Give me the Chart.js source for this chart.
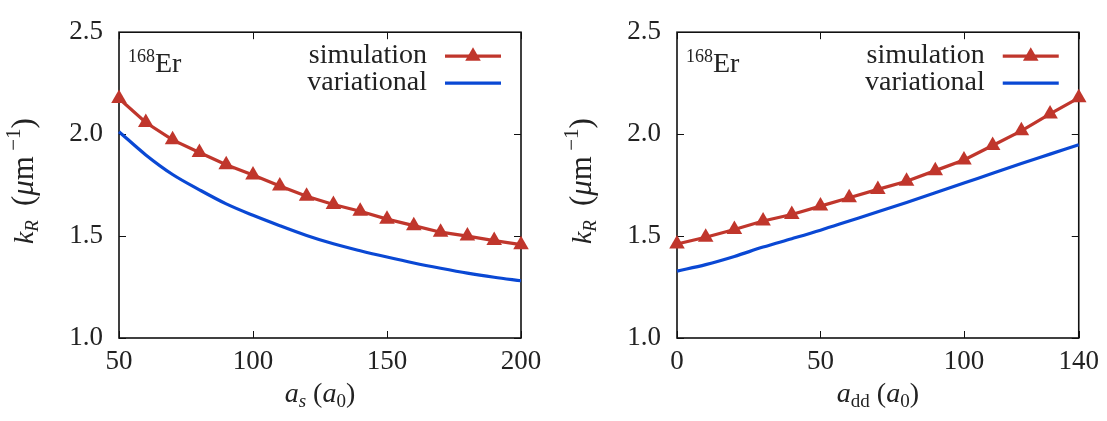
<!DOCTYPE html>
<html>
<head>
<meta charset="utf-8">
<script src="https://cdn.jsdelivr.net/npm/chart.js@4.4.1/dist/chart.umd.min.js"></script>
<style>
  body { margin: 0; background: #fff; width: 1107px; height: 421px; overflow: hidden; position: relative; }
  canvas { position: absolute; top: 0; }
  #graficoAs { left: 0; }
  #graficoAdd { left: 553px; }
</style>
</head>
<body>
<canvas id="graficoAs" width="553" height="421"></canvas>
<canvas id="graficoAdd" width="554" height="421"></canvas>
<script>
// datos
const nombresSeries = ['simulation', 'variational'];
const etiquetaIsotopo = ['168', 'Er'];

const valoresAs = [50, 60, 70, 80, 90, 100, 110, 120, 130, 140, 150, 160, 170, 180, 190, 200];
const simulacionAs = [2.175, 2.057, 1.972, 1.91, 1.85, 1.8, 1.746, 1.695, 1.655, 1.622, 1.583, 1.551, 1.519, 1.5, 1.478, 1.458];
const variacionalAs = [2.012, 1.898, 1.802, 1.727, 1.658, 1.602, 1.551, 1.503, 1.462, 1.428, 1.397, 1.368, 1.342, 1.318, 1.298, 1.281];

const valoresAdd = [0, 10, 20, 30, 40, 50, 60, 70, 80, 90, 100, 110, 120, 130, 140];
const simulacionAdd = [1.461, 1.494, 1.532, 1.574, 1.606, 1.647, 1.688, 1.729, 1.769, 1.821, 1.873, 1.944, 2.016, 2.099, 2.178];
const variacionalAdd = [1.328, 1.36, 1.40, 1.446, 1.487, 1.529, 1.574, 1.619, 1.665, 1.712, 1.76, 1.808, 1.856, 1.902, 1.948];

const ticksY = [1.0, 1.5, 2.0, 2.5];
const ticksAs = [50, 100, 150, 200];
const ticksAdd = [0, 50, 100, 140];

const ROJO = '#c0362c';
const AZUL = '#0a48d4';
const TEXTO = '#222';
const FUENTE = '"Liberation Serif", "Times New Roman", serif';

// partes de texto: [texto, tamaño, cursiva, desplazamiento vertical]
function textoRico(ctx, partes, x, y, rotacion) {
  ctx.save();
  ctx.translate(x, y);
  if (rotacion) ctx.rotate(rotacion);
  ctx.fillStyle = TEXTO;
  ctx.textBaseline = 'alphabetic';
  ctx.textAlign = 'left';
  let ancho = 0;
  partes.forEach(p => {
    ctx.font = (p[2] ? 'italic ' : '') + p[1] + 'px ' + FUENTE;
    ancho += ctx.measureText(p[0]).width;
  });
  let cx = -ancho / 2;
  partes.forEach(p => {
    ctx.font = (p[2] ? 'italic ' : '') + p[1] + 'px ' + FUENTE;
    ctx.fillText(p[0], cx, p[3]);
    cx += ctx.measureText(p[0]).width;
  });
  ctx.restore();
}

function triangulo(ctx, x, y, r) {
  const tercio = Math.PI * 2 / 3;
  let ang = 0;
  ctx.beginPath();
  ctx.moveTo(x + Math.sin(ang) * r, y - Math.cos(ang) * r);
  ang += tercio;
  ctx.lineTo(x + Math.sin(ang) * r, y - Math.cos(ang) * r);
  ang += tercio;
  ctx.lineTo(x + Math.sin(ang) * r, y - Math.cos(ang) * r);
  ctx.closePath();
  ctx.fill();
}

const marco = {
  id: 'marco',
  beforeDatasetsDraw(chart) {
    const { ctx, chartArea: a, scales } = chart;
    ctx.save();
    ctx.strokeStyle = '#111';
    ctx.lineWidth = 1;
    ctx.beginPath();
    scales.x.ticks.forEach(t => {
      const px = Math.round(scales.x.getPixelForValue(t.value)) + 0.5;
      ctx.moveTo(px, a.bottom); ctx.lineTo(px, a.bottom - 7);
      ctx.moveTo(px, a.top); ctx.lineTo(px, a.top + 7);
    });
    scales.y.ticks.forEach(t => {
      const py = Math.round(scales.y.getPixelForValue(t.value)) + 0.5;
      ctx.moveTo(a.left, py); ctx.lineTo(a.left + 7, py);
      ctx.moveTo(a.right, py); ctx.lineTo(a.right - 7, py);
    });
    ctx.stroke();
    ctx.lineWidth = 1.6;
    ctx.strokeRect(a.left, a.top, a.right - a.left, a.bottom - a.top);
    ctx.restore();
  },
  afterDraw(chart, args, opciones) {
    const { ctx, chartArea: a } = chart;
    // leyenda
    ctx.save();
    ctx.font = '28px ' + FUENTE;
    ctx.fillStyle = TEXTO;
    ctx.textAlign = 'right';
    ctx.textBaseline = 'alphabetic';
    const filas = [a.top + 24, a.top + 51];
    nombresSeries.forEach((nombre, i) => {
      ctx.fillText(nombre, a.right - 94, filas[i] + 7);
      ctx.strokeStyle = i === 0 ? ROJO : AZUL;
      ctx.lineWidth = 3.2;
      ctx.beginPath();
      ctx.moveTo(a.right - 76, filas[i]);
      ctx.lineTo(a.right - 20, filas[i]);
      ctx.stroke();
      if (i === 0) {
        ctx.fillStyle = ROJO;
        triangulo(ctx, a.right - 48, filas[i], 9);
        ctx.fillStyle = TEXTO;
      }
    });
    // isotopo
    ctx.textAlign = 'left';
    ctx.font = '18px ' + FUENTE;
    ctx.fillText(etiquetaIsotopo[0], a.left + 9, a.top + 30);
    const w = ctx.measureText(etiquetaIsotopo[0]).width;
    ctx.font = '28px ' + FUENTE;
    ctx.fillText(etiquetaIsotopo[1], a.left + 9 + w, a.top + 40);
    ctx.restore();
    // titulos de ejes
    textoRico(ctx, opciones.tituloX, (a.left + a.right) / 2, a.bottom + 64, 0);
    textoRico(ctx, opciones.tituloY, a.left - 86, (a.top + a.bottom) / 2 - 4, -Math.PI / 2);
  }
};

const tituloY = [
  ['k', 28, true, 0], ['R', 19, true, 5], ['  ', 28, false, 0], ['(', 31, false, 0],
  ['μ', 31, true, 0], ['m', 31, false, 0], [' −1', 21, false, -13], [')', 31, false, 0]
];

function CrearGrafico(idCanvas, valoresX, simulacion, variacional, ticksX, tituloX, relleno, anchoY) {
  const puntosSim = valoresX.map((x, i) => ({ x: x, y: simulacion[i] }));
  const puntosVar = valoresX.map((x, i) => ({ x: x, y: variacional[i] }));
  const ctx = document.getElementById(idCanvas);
  return new Chart(ctx, {
    type: 'line',
    data: {
      datasets: [{
        label: nombresSeries[0],
        data: puntosSim,
        borderColor: ROJO,
        backgroundColor: ROJO,
        borderWidth: 3.2,
        pointStyle: 'triangle',
        pointRadius: 9,
        pointBorderWidth: 0,
        clip: false,
        order: 1
      }, {
        label: nombresSeries[1],
        data: puntosVar,
        borderColor: AZUL,
        borderWidth: 3.2,
        pointRadius: 0,
        cubicInterpolationMode: 'monotone',
        clip: false,
        order: 2
      }]
    },
    options: {
      responsive: false,
      animation: false,
      devicePixelRatio: 1,
      layout: { padding: relleno },
      plugins: {
        legend: { display: false },
        tooltip: { enabled: false },
        marco: { tituloX: tituloX, tituloY: tituloY }
      },
      scales: {
        x: {
          type: 'linear',
          min: ticksX[0],
          max: ticksX[ticksX.length - 1],
          afterBuildTicks: eje => { eje.ticks = ticksX.map(v => ({ value: v })); },
          afterFit: eje => { eje.height = 83; },
          grid: { display: false, drawTicks: false },
          border: { display: false },
          ticks: { color: TEXTO, font: { family: FUENTE, size: 27 }, padding: 8, maxRotation: 0, autoSkip: false }
        },
        y: {
          min: 1.0,
          max: 2.5,
          afterBuildTicks: eje => { eje.ticks = ticksY.map(v => ({ value: v })); },
          afterFit: eje => { eje.width = anchoY; },
          grid: { display: false, drawTicks: false },
          border: { display: false },
          ticks: { color: TEXTO, font: { family: FUENTE, size: 27 }, padding: 16, callback: v => v.toFixed(1) }
        }
      }
    },
    plugins: [marco]
  });
}

CrearGrafico('graficoAs', valoresAs, simulacionAs, variacionalAs, ticksAs,
  [['a', 28, true, 0], ['s', 19, true, 5], [' (', 28, false, 0], ['a', 28, true, 0], ['0', 19, false, 5], [')', 28, false, 0]],
  { top: 27, right: 32, left: 0, bottom: 0 }, 119);

CrearGrafico('graficoAdd', valoresAdd, simulacionAdd, variacionalAdd, ticksAdd,
  [['a', 28, true, 0], ['dd', 19, false, 5], [' (', 28, false, 0], ['a', 28, true, 0], ['0', 19, false, 5], [')', 28, false, 0]],
  { top: 27, right: 26, left: 0, bottom: 0 }, 124);
</script>
</body>
</html>
